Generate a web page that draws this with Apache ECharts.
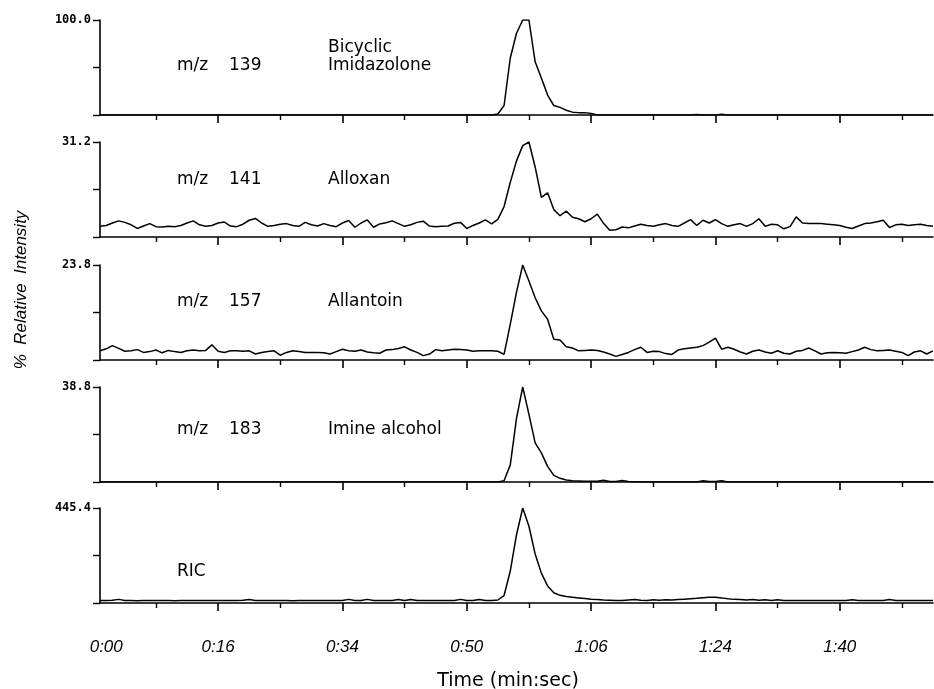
<!DOCTYPE html>
<html><head><meta charset="utf-8">
<script src="https://cdn.jsdelivr.net/npm/echarts@6/dist/echarts.min.js"></script>
<style>html,body{margin:0;padding:0;background:#fff}#c{width:934px;height:689px}</style>
</head><body><div id="c"></div>
<script>
// x axis = scan number
const SCAN_START = 1;
const SCAN_END = 135;
const TICK_MAJOR = [20, 40, 60, 80, 100, 120];
const TICK_MINOR = [10, 30, 50, 70, 90, 110, 130];
const TIME_LABEL_SCANS = [2, 20, 40, 60, 80, 100, 120];
const TIME_LABELS = ['0:00', '0:16', '0:34', '0:50', '1:06', '1:24', '1:40'];
const PANEL_MAX = [100.0, 31.2, 23.8, 38.8, 445.4];
const PANEL_MZ = ['m/z', 'm/z', 'm/z', 'm/z', 'RIC'];
const PANEL_MASS = ['139', '141', '157', '183', ''];
const PANEL_NAME = [['Bicyclic', 'Imidazolone'], ['Alloxan'], ['Allantoin'], ['Imine alcohol'], []];

const mz139 = [
0,0,0,0,0,0,0,0,0,0,
0,0,0,0,0,0,0,0,0,0,
0,0,0,0,0,0,0,0,0,0,
0,0,0,0,0,0,0,0,0,0,
0,0,0,0,0,0,0,0,0,0,
0,0,0,0,0,0,0,0,0,0,
0,0,0,0,1,10,60,86,100,100,
56,39,21,10,8,5,3,2.5,2.5,1.5,
0,0,0,0,0,0,0,0,0,0,
0,0,0,0,0,0,0.6,0,0,0,
0.8,0,0,0,0,0,0,0,0,0,
0,0,0,0,0,0,0,0,0,0,
0,0,0,0,0,0,0,0,0,0,
0,0,0,0,0];
const mz141 = [
3.5,3.8,4.6,5.3,4.8,4.0,2.8,3.6,4.4,3.4,
3.3,3.5,3.4,3.8,4.6,5.3,4.0,3.5,3.8,4.6,
4.9,3.6,3.4,4.2,5.5,6.1,4.6,3.5,3.8,4.2,
4.4,3.8,3.5,4.8,4.0,3.6,4.4,3.8,3.4,4.6,
5.4,3.2,4.6,5.6,3.2,4.3,4.7,5.3,4.4,3.5,
4.0,4.8,5.2,3.6,3.4,3.5,3.6,4.5,4.8,2.8,
3.8,4.6,5.6,4.3,5.8,10,18,25,30,31.2,
23,13,14.5,9,7,8.5,6.5,6,5,6,
7.5,4.5,2.2,2.4,3.3,3.0,3.6,4.2,3.8,3.5,
4.0,4.4,3.8,3.5,4.6,5.7,3.8,5.5,4.6,5.7,
4.4,3.5,4.0,4.4,3.5,4.4,6.0,3.5,4.2,4.0,
2.7,3.4,6.6,4.6,4.4,4.4,4.4,4.2,4.0,3.8,
3.2,2.8,3.6,4.4,4.6,5.0,5.5,3.1,4.0,4.2,
3.8,4.0,4.2,3.8,3.5];
const mz157 = [
2.3,2.8,3.6,2.9,2.2,2.3,2.6,1.9,2.1,2.5,
1.8,2.4,2.1,1.9,2.3,2.5,2.3,2.4,3.8,2.2,
1.9,2.3,2.3,2.2,2.3,1.5,1.9,2.1,2.3,1.2,
1.9,2.3,2.1,1.9,1.9,1.9,1.8,1.5,2.1,2.7,
2.3,2.2,2.5,2.0,1.8,1.7,2.5,2.6,2.9,3.3,
2.5,1.9,1.1,1.5,2.6,2.3,2.5,2.7,2.6,2.5,
2.2,2.3,2.3,2.3,2.2,1.4,9,17,23.8,19.8,
15.6,12.3,10.2,5.2,5.0,3.3,3.0,2.3,2.4,2.5,
2.4,2.0,1.5,0.9,1.4,1.9,2.6,3.2,1.9,2.2,
2.1,1.6,1.4,2.5,2.8,3.0,3.2,3.6,4.5,5.5,
2.7,3.2,2.7,2.0,1.5,2.2,2.5,2.0,1.7,2.3,
1.7,1.5,2.2,2.4,3.0,2.3,1.5,1.8,1.9,1.8,
1.7,2.1,2.5,3.2,2.6,2.3,2.4,2.5,2.2,1.9,
1.1,2.0,2.3,1.5,2.3];
const mz183 = [
0,0,0,0,0,0,0,0,0,0,
0,0,0,0,0,0,0,0,0,0,
0,0,0,0,0,0,0,0,0,0,
0,0,0,0,0,0,0,0,0,0,
0,0,0,0,0,0,0,0,0,0,
0,0,0,0,0,0,0,0,0,0,
0,0,0,0,0,0.5,7,26,38.8,27.6,
16,11.9,6.4,2.7,1.5,0.8,0.5,0.4,0.3,0.3,
0.3,0.7,0.2,0.2,0.6,0.2,0.1,0,0,0,
0,0,0,0,0,0,0,0.5,0.2,0.2,
0.5,0,0,0,0,0,0,0,0,0,
0,0,0,0,0,0,0,0,0,0,
0,0,0,0,0,0,0,0,0,0,
0,0,0,0,0];
const ric = [
12,12,13,17,12,12,11,12,12,12,
12,12,11,12,12,12,12,12,12,12,
12,12,12,13,16,12,12,12,12,12,
12,11,12,12,12,12,12,12,12,12,
17,12,12,17,12,12,12,12,16,12,
16,12,12,12,12,12,12,12,17,12,
12,16,12,12,14,35,150,320,445.4,360,
230,140,80,48,36,30,27,24,21,18,
16,14,13,12,12,14,16,13,12,15,
13,15,14,16,18,20,22,25,27,27,
24,20,17,16,14,16,13,15,12,15,
12,12,12,12,12,12,12,12,12,12,
12,15,12,12,12,12,12,16,12,12,
12,12,12,12,12];

const SERIES = [mz139, mz141, mz157, mz183, ric];
const GRID_TOP = [20, 142, 265, 387, 508];
const GRID_H = 95;
const TEXT_Y = [[66, 48, 66], [180, 180], [302, 302], [430, 430], [572]];

const chart = echarts.init(document.getElementById('c'));
const grids = [], xAxes = [], yAxes = [], series = [], graphics = [];
const black = '#000';
for (let k = 0; k < 5; k++) {
  grids.push({left: 100, top: GRID_TOP[k], width: 833, height: GRID_H});
  const last = k === 4;
  xAxes.push({
    type: 'value', gridIndex: k, position: 'bottom', min: SCAN_START, max: SCAN_END,
    axisLine: {show: true, lineStyle: {color: black, width: 1.6}},
    axisTick: {show: true, inside: false, length: 8, customValues: TICK_MAJOR, lineStyle: {color: black, width: 1.6}},
    axisLabel: last ? {
      show: true, customValues: TIME_LABEL_SCANS, margin: 36,
      fontFamily: 'Liberation Sans', fontStyle: 'italic', fontSize: 17, color: black,
      formatter: v => TIME_LABELS[TIME_LABEL_SCANS.indexOf(Math.round(v))] || ''
    } : {show: false},
    splitLine: {show: false}
  });
  xAxes.push({
    type: 'value', gridIndex: k, position: 'bottom', offset: 0, min: SCAN_START, max: SCAN_END,
    axisLine: {show: false},
    axisTick: {show: true, inside: false, length: 5, customValues: TICK_MINOR, lineStyle: {color: black, width: 1.4}},
    axisLabel: {show: false},
    splitLine: {show: false}
  });
  const M = PANEL_MAX[k];
  yAxes.push({
    type: 'value', gridIndex: k, min: 0, max: M, interval: M / 2,
    axisLine: {show: true, lineStyle: {color: black, width: 1.6}},
    axisTick: {show: true, inside: false, length: 7, lineStyle: {color: black, width: 1.4}},
    axisLabel: {
      show: true, margin: 9, fontFamily: 'DejaVu Sans Mono', fontWeight: 'bold', fontSize: 12, color: black,
      formatter: v => Math.abs(v - M) < 1e-6 ? M.toFixed(1) : ''
    },
    splitLine: {show: false}
  });
  series.push({
    type: 'line', xAxisIndex: 2 * k, yAxisIndex: k, symbol: 'none', silent: true,
    lineStyle: {color: black, width: 1.5},
    data: SERIES[k].map((v, i) => [SCAN_START + i, v])
  });
  const font = '17px "DejaVu Sans"';
  graphics.push({type: 'text', style: {text: PANEL_MZ[k], x: 177, y: TEXT_Y[k][0], font, fill: black, verticalAlign: 'middle'}});
  if (PANEL_MASS[k]) graphics.push({type: 'text', style: {text: PANEL_MASS[k], x: 229, y: TEXT_Y[k][0], font, fill: black, verticalAlign: 'middle'}});
  PANEL_NAME[k].forEach((t, j) => {
    graphics.push({type: 'text', style: {text: t, x: 328, y: TEXT_Y[k][1 + j], font, fill: black, verticalAlign: 'middle'}});
  });
}
graphics.push({type: 'text', x: 21, y: 290, rotation: Math.PI / 2,
  style: {text: '%  Relative  Intensity', x: 0, y: 0, font: 'italic 17px "Liberation Sans"', fill: black, align: 'center', verticalAlign: 'middle'}});
graphics.push({type: 'text', style: {text: 'Time (min:sec)', x: 508, y: 681, font: '19px "DejaVu Sans"', fill: black, align: 'center', verticalAlign: 'middle'}});

chart.setOption({
  animation: false,
  backgroundColor: '#fff',
  grid: grids, xAxis: xAxes, yAxis: yAxes, series, graphic: graphics
});
</script></body></html>
